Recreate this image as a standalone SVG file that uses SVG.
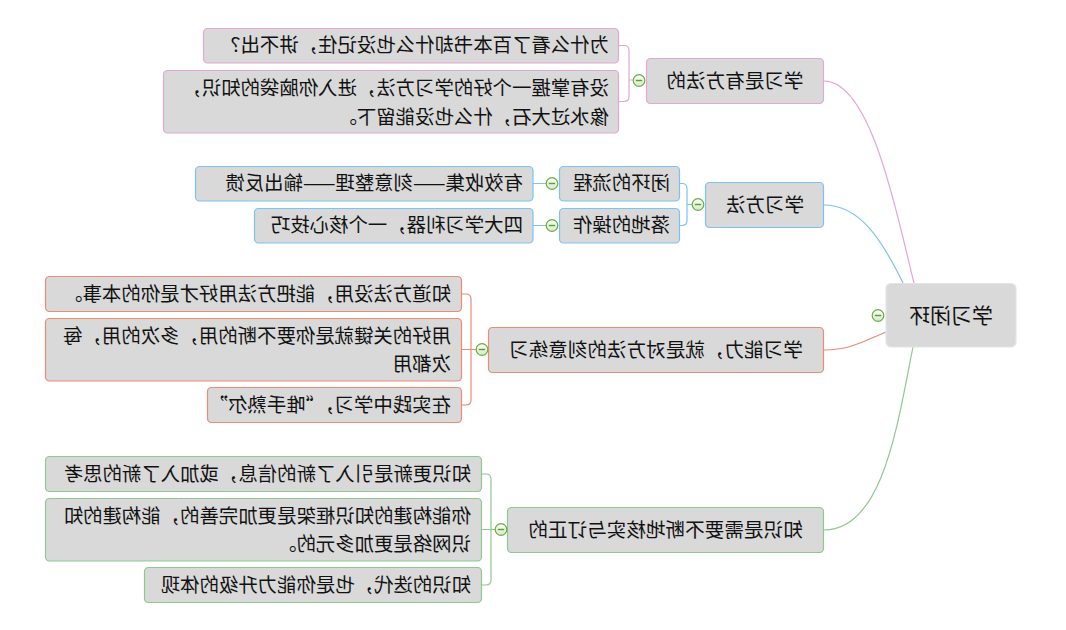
<svg xmlns="http://www.w3.org/2000/svg" width="1066" height="630" viewBox="0 0 1066 630">
<defs>
<style>
.box{fill:#d9d9d9;stroke-width:1.2}
.pk{stroke:#e6a5d4}
.bl{stroke:#7cc3f0}
.or{stroke:#ea8c76}
.gr{stroke:#8ec98f}
.ln{fill:none;stroke-width:1.2}
.t{font-family:"Noto Sans CJK SC","Noto Sans",sans-serif;font-size:19.4px;fill:#111}
.tm{font-size:19.6px;text-anchor:middle}
.tr{font-size:21px;text-anchor:middle}
.cc{fill:url(#cg);stroke:#6aaf3d;stroke-width:1.2}
.cm{stroke:#5a9e2e;stroke-width:1.4}
</style>
<linearGradient id="cg" x1="0" y1="0" x2="0" y2="1">
<stop offset="0" stop-color="#ffffff"/>
<stop offset="1" stop-color="#d6e8cc"/>
</linearGradient>
<g id="col"><circle class="cc" r="5.8"/><line class="cm" x1="-3.2" y1="0" x2="3.2" y2="0"/></g>
</defs>
<rect width="1066" height="630" fill="#ffffff"/>

<g id="connectors">
<path class="ln pk" d="M824,81 C872,81 898,220 914,283"/>
<path class="ln bl" d="M824,205 C860,205 882,240 903,283"/>
<path class="ln or" d="M824,350 C850,350 864,341 886,332"/>
<path class="ln gr" d="M824,530 C884,530 898,420 913,347"/>
<path class="ln pk" d="M619,45.5 H624 Q629,45.5 629,50.5 V96.5 Q629,101.5 624,101.5 H619 M629,80 H634"/>
<path class="ln bl" d="M680,183.5 H682 Q687,183.5 687,188.5 V220.5 Q687,225.5 682,225.5 H680 M687,204.5 H693"/>
<path class="ln bl" d="M533,183.5 H547 M533,225.5 H547"/>
<path class="ln or" d="M462,294 H466 Q471,294 471,299 V400 Q471,405 466,405 H462 M462,349.5 H477"/>
<path class="ln gr" d="M482,474 H486 Q491,474 491,479 V580 Q491,585 486,585 H482 M482,529.5 H496"/>
</g>

<g id="root">
<rect class="box" x="886" y="283.5" width="130" height="63.5" rx="5" stroke="#e4e4e4"/>
<text class="t tr" transform="scale(-1,1)" x="-951" y="322.5">学习闭环</text>
<use href="#col" x="878" y="315.5"/>
</g>

<g id="n1">
<rect class="box pk" x="646.5" y="58.5" width="177" height="45" rx="4"/>
<text class="t tm" transform="scale(-1,1)" x="-735" y="87.5">学习是有方法的</text>
<use href="#col" x="639" y="80.5"/>
</g>
<g id="n1a">
<rect class="box pk" x="203.5" y="28.5" width="415" height="34.5" rx="4"/>
<text class="t" transform="scale(-1,1)" x="-609" y="52">为什么看了百本书却什么也没记住，讲不出？</text>
</g>
<g id="n1b">
<rect class="box pk" x="163.5" y="70.5" width="455" height="62.5" rx="4"/>
<text class="t" transform="scale(-1,1)" x="-609" y="95">没有掌握一个好的学习方法，进入你脑袋的知识，</text>
<text class="t" transform="scale(-1,1)" x="-609" y="124">像水过大石，什么也没能留下。</text>
</g>

<g id="n2">
<rect class="box bl" x="705.5" y="182.5" width="118" height="45" rx="4"/>
<text class="t tm" transform="scale(-1,1)" x="-765" y="211.5">学习方法</text>
<use href="#col" x="698" y="204.5"/>
</g>
<g id="n2a">
<rect class="box bl" x="559.5" y="166.5" width="120" height="34.5" rx="4"/>
<text class="t" transform="scale(-1,1)" x="-670" y="190">闭环的流程</text>
<use href="#col" x="552" y="183.5"/>
</g>
<g id="n2a1">
<rect class="box bl" x="195.5" y="166.5" width="337.5" height="34.5" rx="4"/>
<text class="t" transform="scale(-1,1)" x="-523" y="190">有效收集——刻意整理——输出反馈</text>
</g>
<g id="n2b">
<rect class="box bl" x="559.5" y="208.5" width="120" height="34.5" rx="4"/>
<text class="t" transform="scale(-1,1)" x="-670" y="232">落地的操作</text>
<use href="#col" x="552" y="225.5"/>
</g>
<g id="n2b1">
<rect class="box bl" x="254.5" y="208.5" width="278.5" height="34.5" rx="4"/>
<text class="t" transform="scale(-1,1)" x="-523" y="232">四大学习利器，一个核心技巧</text>
</g>

<g id="n3">
<rect class="box or" x="488.5" y="327.5" width="335" height="45" rx="4"/>
<text class="t tm" transform="scale(-1,1)" x="-656" y="356.5">学习能力，就是对方法的刻意练习</text>
<use href="#col" x="482" y="349.5"/>
</g>
<g id="n3a">
<rect class="box or" x="45.5" y="276.5" width="416" height="35" rx="4"/>
<text class="t" transform="scale(-1,1)" x="-451" y="300.5">知道方法没用，能把方法用好才是你的本事。</text>
</g>
<g id="n3b">
<rect class="box or" x="45.5" y="318.5" width="416" height="62.5" rx="4"/>
<text class="t" transform="scale(-1,1)" x="-451" y="343">用好的关键就是你要不断的用，多次的用，每</text>
<text class="t" transform="scale(-1,1)" x="-451" y="371">次都用</text>
</g>
<g id="n3c">
<rect class="box or" x="207.5" y="387.5" width="254" height="35" rx="4"/>
<text class="t" transform="scale(-1,1)" x="-451" y="411.5">在实践中学习，“唯手熟尔”</text>
</g>

<g id="n4">
<rect class="box gr" x="507.5" y="507.5" width="316" height="45" rx="4"/>
<text class="t tm" transform="scale(-1,1)" x="-665.5" y="536.5">知识是需要不断地核实与订正的</text>
<use href="#col" x="501" y="529.5"/>
</g>
<g id="n4a">
<rect class="box gr" x="45.5" y="456.5" width="436" height="35" rx="4"/>
<text class="t" transform="scale(-1,1)" x="-471" y="480.5">知识更新是引入了新的信息，或加入了新的思考</text>
</g>
<g id="n4b">
<rect class="box gr" x="45.5" y="498.5" width="436" height="62.5" rx="4"/>
<text class="t" transform="scale(-1,1)" x="-471" y="523">你能构建的知识框架是更加完善的，能构建的知</text>
<text class="t" transform="scale(-1,1)" x="-471" y="551">识网络是更加多元的。</text>
</g>
<g id="n4c">
<rect class="box gr" x="144.5" y="567.5" width="337" height="35" rx="4"/>
<text class="t" transform="scale(-1,1)" x="-471" y="591.5">知识的迭代，也是你能力升级的体现</text>
</g>
</svg>
